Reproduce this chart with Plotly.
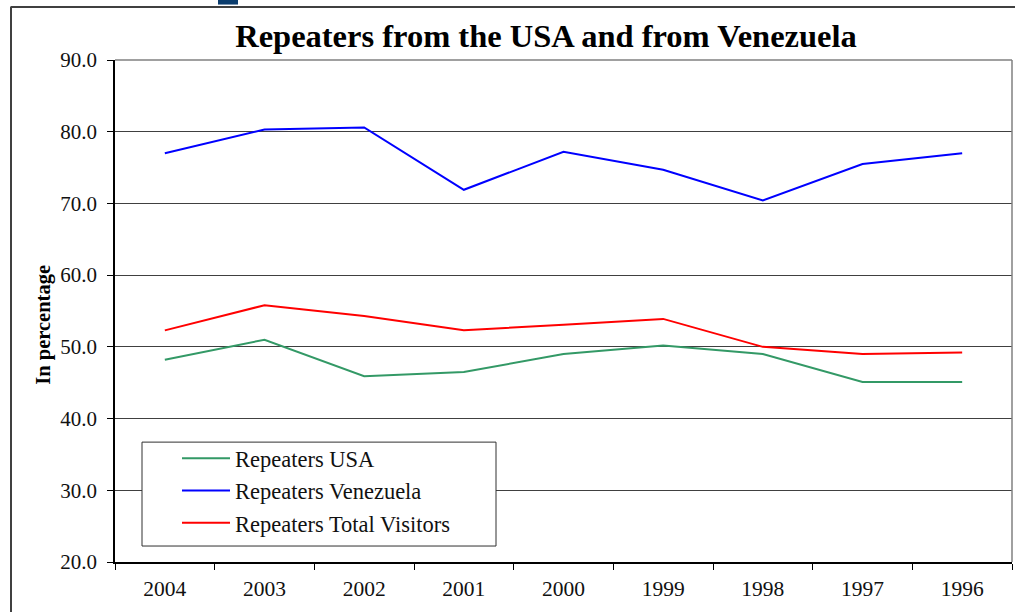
import plotly.graph_objects as go

years = ["2004", "2003", "2002", "2001", "2000", "1999", "1998", "1997", "1996"]
usa = [48.2, 51.0, 45.9, 46.5, 49.0, 50.2, 49.0, 45.1, 45.1]
venezuela = [77.0, 80.3, 80.6, 71.9, 77.2, 74.7, 70.4, 75.5, 77.0]
total = [52.3, 55.8, 54.3, 52.3, 53.1, 53.9, 50.0, 49.0, 49.2]
y_ticks = [20, 30, 40, 50, 60, 70, 80, 90]

W, H = 1015, 612
L, R, T, B = 115, 1012, 59.5, 562
PW, PH = R - L, B - T


def px(x):
    return (x - L) / PW


def py(y):
    return (B - y) / PH


FONT = "Liberation Serif, Times New Roman, serif"

fig = go.Figure()
series = [
    ("Repeaters USA", usa, "#339966"),
    ("Repeaters Venezuela", venezuela, "#0000FF"),
    ("Repeaters Total Visitors", total, "#FF0000"),
]
for name, vals, col in series:
    fig.add_trace(go.Scatter(x=years, y=vals, mode="lines", name=name,
                             line=dict(color=col, width=2)))

shapes = [
    # outer frame (cropped)
    dict(type="line", xref="paper", yref="paper", x0=px(11), x1=px(11), y0=py(6), y1=py(640),
         line=dict(color="#404040", width=2)),
    dict(type="line", xref="paper", yref="paper", x0=px(11), x1=px(1040), y0=py(6.5), y1=py(6.5),
         line=dict(color="#404040", width=2)),
    # plot area top/right border
    dict(type="line", xref="paper", yref="paper", x0=0, x1=1, y0=1, y1=1,
         line=dict(color="#808080", width=1.5)),
    dict(type="line", xref="paper", yref="paper", x0=1, x1=1, y0=0, y1=1,
         line=dict(color="#808080", width=1.5)),
    # legend box (opaque, covers gridlines)
    dict(type="rect", xref="paper", yref="paper", x0=px(142), x1=px(496), y0=py(546), y1=py(442),
         line=dict(color="#303030", width=1), fillcolor="white", layer="above"),
    # cropped glyph at top
    dict(type="rect", xref="paper", yref="paper", x0=px(218), x1=px(238), y0=py(4), y1=py(-2),
         line=dict(width=0), fillcolor="#0b3d6e"),
]

fig.update_layout(
    width=W, height=H,
    margin=dict(l=L, r=W - R, t=T, b=H - B, pad=0),
    paper_bgcolor="white", plot_bgcolor="white",
    font=dict(family=FONT, color="#111111", size=20),
    title=dict(text="<b>Repeaters from the USA and from Venezuela</b>",
               x=546 / W, xanchor="center", xref="container",
               y=1 - 35.5 / H, yanchor="middle", yref="container",
               font=dict(family=FONT, size=32.5, color="#000000")),
    showlegend=True,
    legend=dict(x=px(177), xanchor="left", y=py(437), yanchor="top",
                bgcolor="rgba(0,0,0,0)", borderwidth=0,
                font=dict(family=FONT, size=22.5, color="#111111"),
                tracegroupgap=0, itemwidth=48),
    shapes=shapes,
    annotations=[dict(text="<b>In percentage</b>", x=px(30), y=py(325), xref="paper", yref="paper",
                      showarrow=False, textangle=-90,
                      font=dict(family=FONT, size=20.5, color="#000000"))],
)

fig.update_xaxes(type="category", range=[-0.5, 8.5], showgrid=False,
                 showline=True, linecolor="#000000", linewidth=1.5,
                 ticks="outside", tickson="boundaries", ticklen=6, tickcolor="#000000",
                 tickfont=dict(family=FONT, size=21.5), ticklabelstandoff=6)
fig.update_yaxes(range=[20, 90], tickvals=y_ticks, tickformat=".1f",
                 showgrid=True, gridcolor="#404040", gridwidth=1,
                 showline=True, linecolor="#000000", linewidth=1.5,
                 ticks="outside", ticklen=6, tickcolor="#000000",
                 tickfont=dict(family=FONT, size=21), ticklabelstandoff=6, zeroline=False)

fig.write_html("out.html", config={"displayModeBar": False},
               post_script="document.body.style.margin='0';document.body.style.overflow='hidden';")
